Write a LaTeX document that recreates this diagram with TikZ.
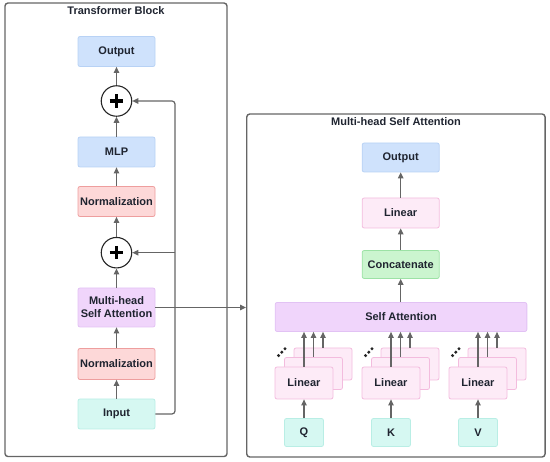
\documentclass[tikz,border=0pt]{standalone}
\usepackage{fontspec}
\setmainfont{Liberation Sans}
\usetikzlibrary{arrows.meta}

\definecolor{inktext}{HTML}{1F2430}
\definecolor{linegray}{HTML}{656565}
\definecolor{blueFill}{HTML}{CFE2FC}
\definecolor{blueLine}{HTML}{B8D2F5}
\definecolor{redFill}{HTML}{FDD8D8}
\definecolor{redLine}{HTML}{EE9E9E}
\definecolor{purpleFill}{HTML}{F0D5FB}
\definecolor{purpleLine}{HTML}{E2C2F4}
\definecolor{cyanFill}{HTML}{D6F8F2}
\definecolor{cyanLine}{HTML}{B9EEE5}
\definecolor{pinkFill}{HTML}{FDEBF7}
\definecolor{pinkLine}{HTML}{F3BCDE}
\definecolor{greenFill}{HTML}{CBF5CF}
\definecolor{greenLine}{HTML}{9CE2A5}

\tikzset{
  block/.style={rounded corners=2pt, line width=0.8pt, minimum width=77, minimum height=30,
    inner sep=0pt, align=center, text=inktext, font=\bfseries\fontsize{11}{13}\selectfont},
  blueblock/.style={block, fill=blueFill, draw=blueLine},
  redblock/.style={block, fill=redFill, draw=redLine},
  purpleblock/.style={block, fill=purpleFill, draw=purpleLine},
  cyanblock/.style={block, fill=cyanFill, draw=cyanLine},
  pinkblock/.style={block, fill=pinkFill, draw=pinkLine, minimum width=58, minimum height=32},
  greenblock/.style={block, fill=greenFill, draw=greenLine},
  addnode/.style={circle, draw=black!85, line width=1.1pt, fill=white, minimum size=30.5, inner sep=0pt},
  frame/.style={draw=linegray, line width=1.4pt, rounded corners=3pt, inner sep=0pt},
  title/.style={text=inktext, font=\bfseries\fontsize{11}{13}\selectfont},
  arr/.style={draw=linegray, line width=1.2pt, -{Triangle[length=6pt,width=5.5pt]}},
}

\begin{document}
\begin{tikzpicture}[x=1pt,y=-1pt]
\useasboundingbox (0,0) rectangle (550,462);
\node[frame, minimum width=222, minimum height=453.5] (tbox) at (116,229.8) {};
\node[title] (ttitle) at (116,11) {Transformer Block};
\node[frame, minimum width=298.3, minimum height=343] (abox) at (395.9,285.5) {};
\node[title] (atitle) at (396,122) {Multi-head Self Attention};
\node[blueblock] (out) at (116.5,51.5) {Output};
\node[addnode] (add2) at (116.5,101) {};
\node[blueblock] (mlp) at (116.5,152) {MLP};
\node[redblock] (norm2) at (116.5,201.5) {Normalization};
\node[addnode] (add1) at (116.5,252.7) {};
\node[purpleblock, minimum height=39] (mhsa) at (116.5,307.5) {Multi-head\\Self Attention};
\node[redblock, minimum height=31] (norm1) at (116.5,364) {Normalization};
\node[cyanblock] (inp) at (116.5,414) {Input};
\draw[line width=3.2pt, black] (add2.center) ++(-6.8,0) -- ++(13.6,0);
\draw[line width=3.2pt, black] (add2.center) ++(0,-6.8) -- ++(0,13.6);
\draw[line width=3.2pt, black] (add1.center) ++(-6.8,0) -- ++(13.6,0);
\draw[line width=3.2pt, black] (add1.center) ++(0,-6.8) -- ++(0,13.6);
\draw[arr] (inp) -- (norm1);
\draw[arr] (norm1) -- (mhsa);
\draw[arr] (mhsa) -- (add1);
\draw[arr] (add1) -- (norm2);
\draw[arr] (norm2) -- (mlp);
\draw[arr] (mlp) -- (add2);
\draw[arr] (add2) -- (out);
\coordinate (bend) at (175,414);
\draw[arr, rounded corners=3pt] (inp.east) -- (bend) |- (add2.east);
\draw[arr] (bend |- add1.east) -- (add1.east);
\draw[arr] (mhsa.east) -- (mhsa.east -| abox.west);
\node[blueblock, minimum height=29] (mout) at (400.7,157.5) {Output};
\node[pinkblock, minimum width=77, minimum height=30] (mlin) at (400.7,213) {Linear};
\node[greenblock, minimum height=28] (concat) at (400.7,264.5) {Concatenate};
\node[purpleblock, minimum width=251.7, minimum height=29] (sa) at (401,317) {Self Attention};
\node[pinkblock] (qlin3) at (323,364) {};
\node[pinkblock] (qlin2) at (313.5,373.5) {};
\node[pinkblock] (qlin1) at (304,383) {Linear};
\node[pinkblock] (klin3) at (410,364) {};
\node[pinkblock] (klin2) at (400.5,373.5) {};
\node[pinkblock] (klin1) at (391,383) {Linear};
\node[pinkblock] (vlin3) at (497,364) {};
\node[pinkblock] (vlin2) at (487.5,373.5) {};
\node[pinkblock] (vlin1) at (478,383) {Linear};
\node[cyanblock, minimum width=39, minimum height=28] (q) at (304,432.5) {Q};
\node[cyanblock, minimum width=39, minimum height=28] (k) at (391,432.5) {K};
\node[cyanblock, minimum width=39, minimum height=28] (v) at (478,432.5) {V};
\fill[black!85] (qlin1.north west) ++(4,-11) circle (1.7) ++(3.2,-3.4) circle (1.7) ++(3.2,-3.4) circle (1.7);
\fill[black!85] (klin1.north west) ++(4,-11) circle (1.7) ++(3.2,-3.4) circle (1.7) ++(3.2,-3.4) circle (1.7);
\fill[black!85] (vlin1.north west) ++(4,-11) circle (1.7) ++(3.2,-3.4) circle (1.7) ++(3.2,-3.4) circle (1.7);
\draw[arr] (q) -- (qlin1);
\draw[arr] (k) -- (klin1);
\draw[arr] (v) -- (vlin1);
\draw[arr] (qlin1.north) -- (qlin1.north |- sa.south);
\draw[arr] (qlin2.north) -- (qlin2.north |- sa.south);
\draw[arr] (qlin3.north) -- (qlin3.north |- sa.south);
\draw[arr] (klin1.north) -- (klin1.north |- sa.south);
\draw[arr] (klin2.north) -- (klin2.north |- sa.south);
\draw[arr] (klin3.north) -- (klin3.north |- sa.south);
\draw[arr] (vlin1.north) -- (vlin1.north |- sa.south);
\draw[arr] (vlin2.north) -- (vlin2.north |- sa.south);
\draw[arr] (vlin3.north) -- (vlin3.north |- sa.south);
\draw[arr] (sa.north -| concat.south) -- (concat.south);
\draw[arr] (concat) -- (mlin);
\draw[arr] (mlin) -- (mout);
\end{tikzpicture}
\end{document}
